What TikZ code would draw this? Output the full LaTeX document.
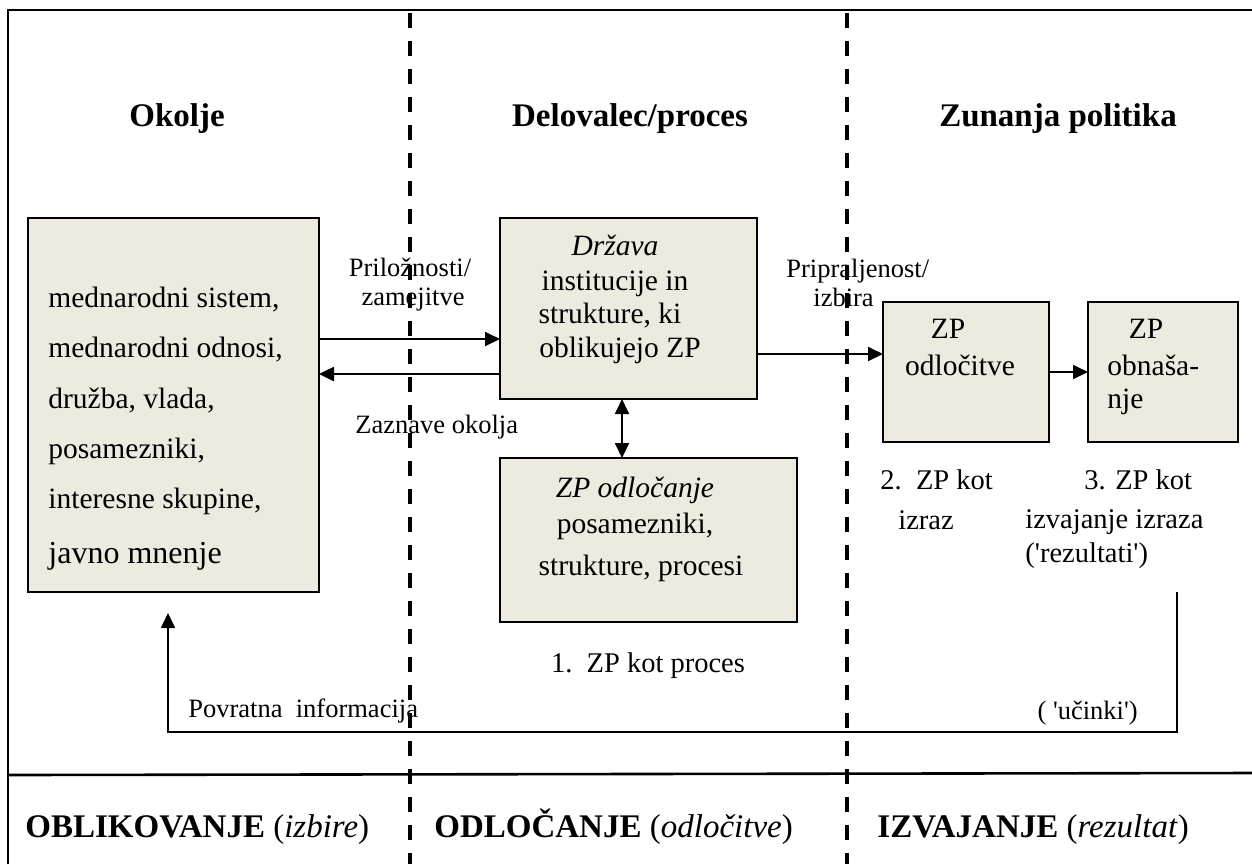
\documentclass[tikz,border=0pt]{standalone}
\usepackage{fontspec}
\setmainfont{Liberation Serif}[Ligatures=TeXOff]
\usetikzlibrary{arrows.meta}
\definecolor{boxfill}{RGB}{237,234,224}
\begin{document}
\begin{tikzpicture}[x=0.5pt,y=-0.5pt,
  box/.style={draw=black,line width=1pt,fill=boxfill,inner sep=0pt,outer sep=0pt},
  title/.style={inner sep=0pt,font=\fontsize{16.5pt}{20pt}\selectfont\bfseries},
  body/.style={inner sep=0pt,font=\fontsize{14.75pt}{18pt}\selectfont},
  bigbody/.style={inner sep=0pt,font=\fontsize{16pt}{19pt}\selectfont},
  lbl/.style={inner sep=0pt,font=\fontsize{13.25pt}{16pt}\selectfont},
  stage/.style={inner sep=0pt,font=\fontsize{14.25pt}{17pt}\selectfont},
  foot/.style={inner sep=0pt,font=\fontsize{16.5pt}{20pt}\selectfont},
  tip/.tip={Triangle[length=7.5pt,width=7pt]},
  arr/.style={line width=0.9pt,-tip},
  divider/.style={line width=2pt,dash pattern=on 7.5pt off 6.5pt,dash phase=12.5pt},
  frame/.style={line width=1.3pt}]

\fill[white] (0,0) rectangle (1252,864);
\useasboundingbox (0,0) rectangle (1252,864);

% outer frame and the band for the three phases
\draw[frame] (8,864) -- (8,10) -- (1252,10);
\draw[frame] (8,775) -- (1252,773);

% column headings
\node[title,anchor=base] (tOkolje) at (177,126) {Okolje};
\node[title,anchor=base] (tDelovalec) at (630,126) {Delovalec/proces};
\node[title,anchor=base] (tZunanja) at (1058,126) {Zunanja politika};

% boxes
\node[box,minimum width=145.5pt,minimum height=187pt] (env) at (173.5,405) {};
\node[box,minimum width=128.5pt,minimum height=90.5pt] (drz) at (628.5,308.5) {};
\node[box,minimum width=148.5pt,minimum height=82pt] (odl) at (648.5,540) {};
\node[box,minimum width=83pt,minimum height=70pt] (dec) at (966,372) {};
\node[box,minimum width=75pt,minimum height=70pt] (beh) at (1163,372) {};

% environment
\node[body,anchor=base west] (e1) at (48,307) {mednarodni sistem,};
\node[body,anchor=base west] (e2) at (48,357) {mednarodni odnosi,};
\node[body,anchor=base west] (e3) at (48,408) {družba, vlada,};
\node[body,anchor=base west] (e4) at (48,458) {posamezniki,};
\node[body,anchor=base west] (e5) at (48,508) {interesne skupine,};
\node[bigbody,anchor=base west] (e6) at (48,563) {javno mnenje};

% state
\node[body,anchor=base] (d1) at (615,255) {\textit{Država}};
\node[body,anchor=base] (d2) at (615,290) {institucije in};
\node[body,anchor=base] (d3) at (610,323) {strukture, ki};
\node[body,anchor=base] (d4) at (620,357) {oblikujejo ZP};

% decision making
\node[body,anchor=base] (o1) at (635,497) {\textit{ZP odločanje}};
\node[body,anchor=base] (o2) at (635,533) {posamezniki,};
\node[body,anchor=base] (o3) at (641,575) {strukture, procesi};
\node[stage,anchor=base] (s1) at (648,672) {1.\ \ ZP kot proces};

% decisions and behaviour
\node[body,anchor=base] (c1) at (948,338) {ZP};
\node[body,anchor=base] (c2) at (960,375) {odločitve};
\node[body,anchor=base] (b1) at (1146,338) {ZP};
\node[body,anchor=base west] (b2) at (1107,375) {obnaša-};
\node[body,anchor=base west] (b3) at (1107,408) {nje};

\node[stage,anchor=base west] (s2a) at (880,489) {2.\ \ ZP kot};
\node[stage,anchor=base] (s2b) at (926,529) {izraz};
\node[stage,anchor=base west] (s3a) at (1084,489) {3. ZP kot};
\node[stage,anchor=base west] (s3b) at (1025,528) {izvajanje izraza};
\node[stage,anchor=base west] (s3c) at (1025,562) {('rezultati')};

% connector labels
\node[lbl,anchor=base] (l1) at (410,276) {Priložnosti/};
\node[lbl,anchor=base] (l2) at (413,305) {zamejitve};
\node[lbl,anchor=base west] (l3) at (355,433) {Zaznave okolja};
\node[lbl,anchor=base west] (l4) at (786,277) {Pripraljenost/};
\node[lbl,anchor=base west] (l5) at (813,306) {izbira};
\node[lbl,anchor=base west] (l6) at (188,717) {Povratna\ \ informacija};
\node[lbl,anchor=base east] (l7) at (1138,719) {( 'učinki')};

% phase names
\node[foot,anchor=base west] (f1) at (25,837) {\textbf{OBLIKOVANJE} (\textit{izbire})};
\node[foot,anchor=base west] (f2) at (434,837) {\textbf{ODLOČANJE} (\textit{odločitve})};
\node[foot,anchor=base west] (f3) at (877,837) {\textbf{IZVAJANJE} (\textit{rezultat})};

% connectors
\coordinate (rowIn) at (0,339);
\coordinate (rowBack) at (0,374);
\coordinate (rowOut) at (0,354);
\coordinate (colLink) at (622,0);
\draw[arr] (env.east |- rowIn) -- (drz.west |- rowIn);
\draw[arr,line width=1.3pt] (drz.west |- rowBack) -- (env.east |- rowBack);
\draw[arr] (drz.east |- rowOut) -- (dec.west |- rowOut);
\draw[arr] (dec.east) -- (beh.west);
\draw[line width=0.9pt,tip-tip] (drz.south -| colLink) -- (odl.north -| colLink);

% feedback loop
\coordinate (fbStart) at (1177,592);
\coordinate (fbRight) at (1177,732);
\coordinate (fbLeft) at (168,732);
\coordinate (fbEnd) at (168,613);
\draw[arr] (fbStart) -- (fbRight) -- (fbLeft) -- (fbEnd);

% phase dividers
\draw[divider] (410,10) -- (410,864);
\draw[divider] (847,10) -- (847,864);
\end{tikzpicture}
\end{document}
